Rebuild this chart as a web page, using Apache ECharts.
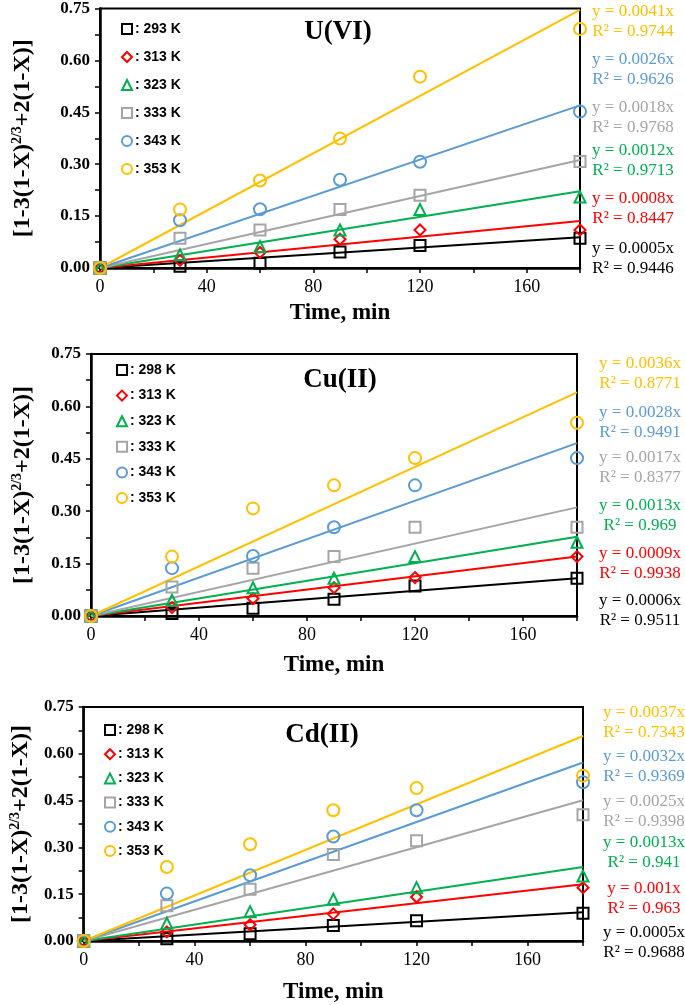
<!DOCTYPE html>
<html>
<head>
<meta charset="utf-8">
<script src="https://cdn.jsdelivr.net/npm/echarts@6/dist/echarts.min.js"></script>
<style>
  html, body { margin: 0; padding: 0; background: #fff; }
  #main { width: 685px; height: 1005px; }
</style>
</head>
<body>
<div id="main"></div>
<script>
// time axis (min)
var xTime = [0, 30, 60, 90, 120, 180];

// U(VI)
var uTemps = ['293 K', '313 K', '323 K', '333 K', '343 K', '353 K'];
var u293 = [0, 0.005, 0.014, 0.046, 0.065, 0.086];
var u313 = [0, 0.022, 0.045, 0.083, 0.110, 0.110];
var u323 = [0, 0.038, 0.062, 0.110, 0.169, 0.205];
var u333 = [0, 0.086, 0.110, 0.169, 0.210, 0.308];
var u343 = [0, 0.138, 0.170, 0.255, 0.307, 0.452];
var u353 = [0, 0.169, 0.253, 0.374, 0.553, 0.691];
var uFitEnd = [0.089, 0.136, 0.222, 0.312, 0.470, 0.746];
var uEq = ['y = 0.0005x', 'y = 0.0008x', 'y = 0.0012x', 'y = 0.0018x', 'y = 0.0026x', 'y = 0.0041x'];
var uR2 = ['R² = 0.9446', 'R² = 0.8447', 'R² = 0.9713', 'R² = 0.9768', 'R² = 0.9626', 'R² = 0.9744'];

// Cu(II)
var cuTemps = ['298 K', '313 K', '323 K', '333 K', '343 K', '353 K'];
var cu298 = [0, 0.007, 0.022, 0.048, 0.086, 0.108];
var cu313 = [0, 0.024, 0.050, 0.081, 0.110, 0.170];
var cu323 = [0, 0.045, 0.081, 0.108, 0.170, 0.211];
var cu333 = [0, 0.083, 0.137, 0.170, 0.254, 0.254];
var cu343 = [0, 0.137, 0.172, 0.254, 0.374, 0.452];
var cu353 = [0, 0.170, 0.308, 0.374, 0.452, 0.553];
var cuFitEnd = [0.108, 0.170, 0.227, 0.311, 0.495, 0.640];
var cuEq = ['y = 0.0006x', 'y = 0.0009x', 'y = 0.0013x', 'y = 0.0017x', 'y = 0.0028x', 'y = 0.0036x'];
var cuR2 = ['R² = 0.9511', 'R² = 0.9938', 'R² = 0.969', 'R² = 0.8377', 'R² = 0.9491', 'R² = 0.8771'];

// Cd(II)
var cdTemps = ['298 K', '313 K', '323 K', '333 K', '343 K', '353 K'];
var cd298 = [0, 0.007, 0.023, 0.050, 0.065, 0.089];
var cd313 = [0, 0.029, 0.052, 0.087, 0.141, 0.171];
var cd323 = [0, 0.057, 0.094, 0.134, 0.171, 0.208];
var cd333 = [0, 0.113, 0.166, 0.277, 0.321, 0.405];
var cd343 = [0, 0.152, 0.211, 0.335, 0.419, 0.509];
var cd353 = [0, 0.237, 0.310, 0.419, 0.490, 0.530];
var cdFitEnd = [0.092, 0.182, 0.237, 0.451, 0.572, 0.657];
var cdEq = ['y = 0.0005x', 'y = 0.001x', 'y = 0.0013x', 'y = 0.0025x', 'y = 0.0032x', 'y = 0.0037x'];
var cdR2 = ['R² = 0.9688', 'R² = 0.963', 'R² = 0.941', 'R² = 0.9398', 'R² = 0.9369', 'R² = 0.7343'];

var yTicks = [0, 0.15, 0.30, 0.45, 0.60, 0.75];
var xTicks = [0, 40, 80, 120, 160];

// styles
var colors = ['#000000', '#FF0000', '#00B050', '#A5A5A5', '#5B9BD5', '#FFC000'];
var symbols = ['rect', 'diamond', 'triangle', 'rect', 'circle', 'circle'];
var symSizes = [11, 11, 11, 11, 12, 12];
var serif = '"Liberation Serif", "Times New Roman", serif';
var sans = '"Liberation Sans", Arial, sans-serif';

var panels = [
    { title: 'U(VI)', temps: uTemps, vals: [u293, u313, u323, u333, u343, u353], fit: uFitEnd, eq: uEq, r2: uR2,
      grid: { left: 100, top: 6, width: 480, height: 262 }, nameGap: 64, xGap: 34,
      titleX: 338, titleY: 19, legend: { left: 121, top: 22, gap: 14 },
      eqX: 633, eqY: [249, 199, 151, 108, 60, 12] },
    { title: 'Cu(II)', temps: cuTemps, vals: [cu298, cu313, cu323, cu333, cu343, cu353], fit: cuFitEnd, eq: cuEq, r2: cuR2,
      grid: { left: 91, top: 354, width: 486, height: 262 }, nameGap: 55, xGap: 38,
      titleX: 340, titleY: 367, legend: { left: 116, top: 363, gap: 11.6 },
      eqX: 640, eqY: [601, 554, 506, 458, 413, 364] },
    { title: 'Cd(II)', temps: cdTemps, vals: [cd298, cd313, cd323, cd333, cd343, cd353], fit: cdFitEnd, eq: cdEq, r2: cdR2,
      grid: { left: 78, top: 707, width: 505, height: 237 }, nameGap: 46, xGap: 40,
      titleX: 322, titleY: 722, legend: { left: 104, top: 723, gap: 10.2 },
      eqX: 644, eqY: [933, 889, 843, 802, 757, 713] }
];

var option = {
    backgroundColor: '#fff',
    animation: false,
    title: [], grid: [], xAxis: [], yAxis: [], legend: [], series: [], graphic: []
};

function addPanel(p, k) {
    option.grid.push({
        left: p.grid.left, top: p.grid.top, width: p.grid.width, height: p.grid.height,
        show: true, borderColor: '#000', borderWidth: 2, backgroundColor: 'transparent'
    });
    option.title.push({
        text: p.title, left: p.titleX, top: p.titleY, textAlign: 'center', padding: 0,
        textStyle: { fontFamily: serif, fontWeight: 'bold', fontSize: 27, color: '#000' }
    });
    option.xAxis.push({
        type: 'value', gridIndex: k, min: 0, max: 180, interval: 40,
        name: 'Time, min', nameLocation: 'middle', nameGap: p.xGap,
        nameTextStyle: { fontFamily: serif, fontWeight: 'bold', fontSize: 23, color: '#000' },
        axisLine: { onZero: false, lineStyle: { color: '#000', width: 2.5 } },
        axisTick: { inside: false, length: 5, lineStyle: { color: '#000', width: 1.5 } },
        minorTick: { show: true, splitNumber: 2, length: 5, lineStyle: { color: '#000', width: 1.5 } },
        axisLabel: { showMaxLabel: false, margin: 10, fontFamily: serif, fontSize: 18, color: '#000',
            formatter: function (v) { return xTicks.indexOf(v) >= 0 ? String(v) : ''; } },
        splitLine: { show: false }
    });
    option.yAxis.push({
        type: 'value', gridIndex: k, min: 0, max: 0.75, interval: 0.15,
        name: '[1-3(1-X){sup|2/3}+2(1-X)]', nameLocation: 'middle', nameGap: p.nameGap, nameRotate: 90,
        nameTextStyle: { fontFamily: serif, fontWeight: 'bold', fontSize: 24, color: '#000',
            rich: { sup: { fontFamily: serif, fontWeight: 'bold', fontSize: 14, color: '#000', verticalAlign: 'top', lineHeight: 26 } } },
        axisLine: { onZero: false, lineStyle: { color: '#000', width: 2.5 } },
        axisTick: { inside: false, length: 5, lineStyle: { color: '#000', width: 1.5 } },
        minorTick: { show: true, splitNumber: 2, length: 5, lineStyle: { color: '#000', width: 1.5 } },
        axisLabel: { margin: 10, fontFamily: serif, fontWeight: 'bold', fontSize: 17, color: '#000',
            formatter: function (v) {
                for (var i = 0; i < yTicks.length; i++) { if (Math.abs(yTicks[i] - v) < 1e-6) return v.toFixed(2); }
                return '';
            } },
        splitLine: { show: false }
    });
    option.legend.push({
        data: p.temps, orient: 'vertical', left: p.legend.left, top: p.legend.top,
        itemGap: p.legend.gap, itemWidth: 10, itemHeight: 10, padding: 0, selectedMode: false,
        formatter: ': {name}',
        textStyle: { fontFamily: sans, fontWeight: 'bold', fontSize: 14, lineHeight: 14, color: '#000', padding: [0, 0, 0, -2] }
    });

    // trend lines first so the markers sit on top
    for (var i = 0; i < p.temps.length; i++) {
        option.series.push({
            type: 'line', name: 'fit' + k + i, xAxisIndex: k, yAxisIndex: k,
            data: [[0, 0], [180, p.fit[i]]], symbol: 'none', z: 2,
            lineStyle: { color: colors[i], width: 2 }, silent: true
        });
    }
    for (var i = 0; i < p.temps.length; i++) {
        var pts = [];
        for (var j = 0; j < xTime.length; j++) pts.push([xTime[j], p.vals[i][j]]);
        option.series.push({
            type: 'scatter', name: p.temps[i], xAxisIndex: k, yAxisIndex: k,
            data: pts, symbol: symbols[i], symbolSize: symSizes[i], z: 3 + i,
            itemStyle: { color: 'rgba(255,255,255,0)', borderColor: colors[i], borderWidth: 2, opacity: 1 }
        });
        option.graphic.push({
            type: 'text', x: p.eqX, y: p.eqY[i], silent: true,
            style: { text: p.eq[i], fill: colors[i], font: '17px ' + serif, align: 'center', verticalAlign: 'middle' }
        });
        option.graphic.push({
            type: 'text', x: p.eqX, y: p.eqY[i] + 20, silent: true,
            style: { text: p.r2[i], fill: colors[i], font: '17px ' + serif, align: 'center', verticalAlign: 'middle' }
        });
    }
}

for (var k = 0; k < panels.length; k++) addPanel(panels[k], k);

var myChart = echarts.init(document.getElementById('main'), null, { renderer: 'canvas' });
myChart.setOption(option);
</script>
</body>
</html>
